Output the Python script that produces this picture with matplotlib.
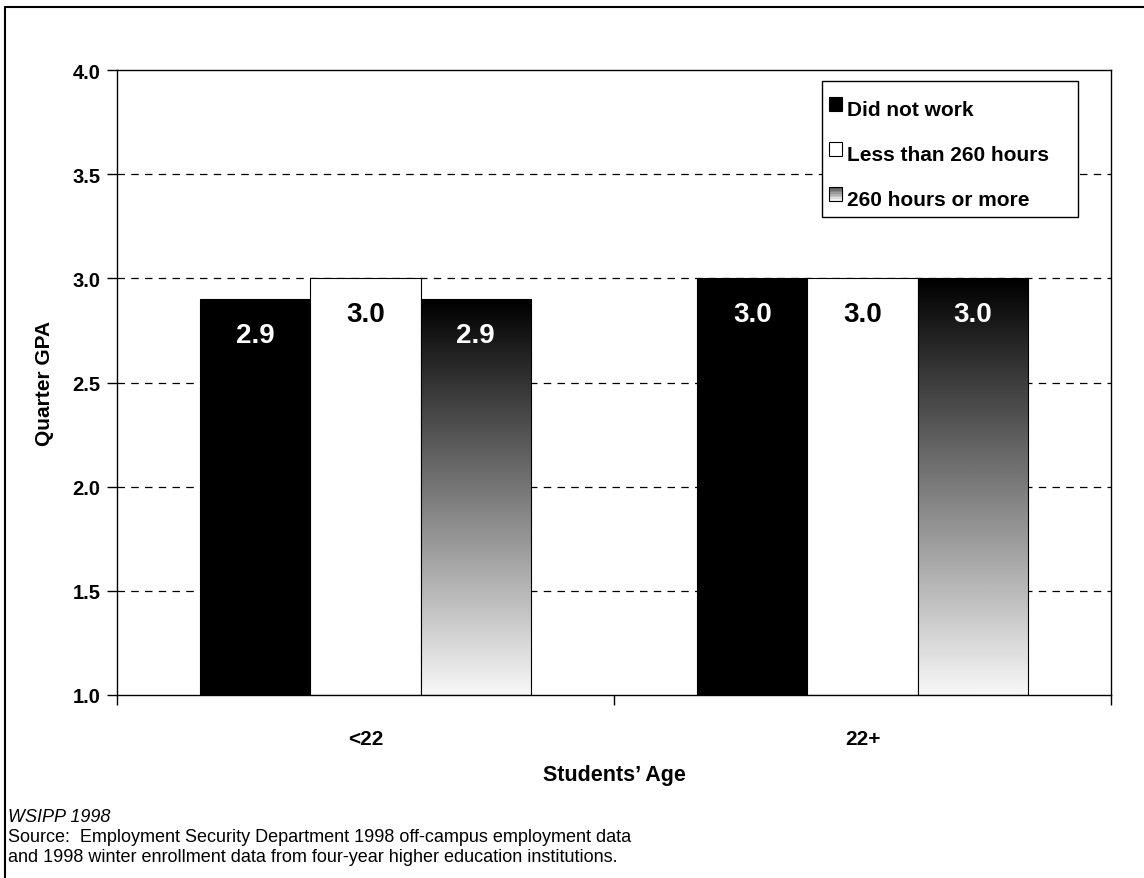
import numpy as np
import matplotlib
matplotlib.use("Agg")
import matplotlib.pyplot as plt
from matplotlib.patches import Rectangle
from matplotlib.legend_handler import HandlerBase

plt.rcParams["font.family"] = ["Liberation Sans", "DejaVu Sans"]

# Data
age_groups = ["<22", "22+"]
series_names = ["Did not work", "Less than 260 hours", "260 hours or more"]
gpa_did_not_work = [2.9, 3.0]
gpa_less_260 = [3.0, 3.0]
gpa_260_plus = [2.9, 3.0]
y_ticks = [1.0, 1.5, 2.0, 2.5, 3.0, 3.5, 4.0]

W, H = 1144, 879
fig = plt.figure(figsize=(W / 100, H / 100), dpi=100)
ax = fig.add_axes([117 / W, 1 - 696 / H, (1111 - 117) / W, (696 - 71) / H])

ax.set_xlim(0, 2)
ax.set_ylim(1.0, 4.0)
base = 1.0
bw = 0.2215
centers = np.arange(len(age_groups)) + 0.5
offsets = [-bw, 0.0, bw]

# dashed gridlines behind the bars
for v in y_ticks[1:-1]:
    ax.axhline(v, color="black", lw=0.9, ls=(0, (6, 5)), zorder=0)

# solid bars
ax.bar(centers + offsets[0], np.array(gpa_did_not_work) - base, bw, bottom=base,
       color="black", edgecolor="black", lw=0.8, zorder=2)
ax.bar(centers + offsets[1], np.array(gpa_less_260) - base, bw, bottom=base,
       color="white", edgecolor="black", lw=0.8, zorder=2)

# gradient bars: black at the top fading to white at the base
grad = np.linspace(0.97, 0.0, 256).reshape(-1, 1)
grad_bars = ax.bar(centers + offsets[2], np.array(gpa_260_plus) - base, bw, bottom=base,
                   color="none", edgecolor="black", lw=0.8, zorder=3)
for rect in grad_bars:
    x0, y0 = rect.get_x(), rect.get_y()
    x1, y1 = x0 + rect.get_width(), y0 + rect.get_height()
    im = ax.imshow(grad, cmap="gray", vmin=0, vmax=1, origin="lower",
                   extent=[x0, x1, y0, y1], aspect="auto", zorder=2,
                   interpolation="bilinear")
    im.set_clip_path(rect)

# value labels
label_off = 0.17
for i, c in enumerate(centers):
    for vals, off, col in [(gpa_did_not_work, offsets[0], "white"),
                           (gpa_less_260, offsets[1], "black"),
                           (gpa_260_plus, offsets[2], "white")]:
        ax.text(c + off, vals[i] - label_off, f"{vals[i]:.1f}", ha="center", va="center",
                color=col, fontsize=20, fontweight="bold", zorder=4)

# axes styling
ax.set_yticks(y_ticks)
ax.set_yticklabels([f"{v:.1f}" for v in y_ticks], fontsize=14.5, fontweight="bold")
ax.set_xticks([0, 1, 2])
ax.set_xticklabels([])
ax.tick_params(axis="both", direction="out", length=7, width=1, color="black")
ax.tick_params(axis="y", pad=5)
for c, name in zip(centers, age_groups):
    ax.text(c, -0.07, name, transform=ax.get_xaxis_transform(), ha="center", va="center",
            fontsize=15, fontweight="bold")
for s in ax.spines.values():
    s.set_linewidth(1.0)
    s.set_color("black")

fig.text(45 / W, 1 - 383 / H, "Quarter GPA", rotation=90, ha="center", va="center",
         fontsize=15, fontweight="bold")
fig.text(614 / W, 1 - 776 / H, "Students\u2019 Age", ha="center", va="center",
         fontsize=15.5, fontweight="bold")


# legend swatches: small squares, the third one shaded
class SwatchHandler(HandlerBase):
    def __init__(self, levels):
        super().__init__()
        self.levels = levels

    def create_artists(self, legend, orig_handle, xdescent, ydescent, width, height,
                       fontsize, trans):
        x = -xdescent
        y = -ydescent + height * 0.25
        artists = []
        n = len(self.levels)
        for k, g in enumerate(self.levels):
            artists.append(Rectangle((x, y + height * (n - 1 - k) / n), width, height / n,
                                     facecolor=(g, g, g), edgecolor="none", transform=trans))
        artists.append(Rectangle((x, y), width, height, facecolor="none",
                                 edgecolor="black", lw=0.8, transform=trans))
        return artists


class Swatch:
    def __init__(self, label):
        self.label = label

    def get_label(self):
        return self.label


handles = [Swatch(n) for n in series_names]
handler_map = {
    handles[0]: SwatchHandler([0.0]),
    handles[1]: SwatchHandler([1.0]),
    handles[2]: SwatchHandler(list(np.linspace(0.35, 0.95, 8))),
}

# legend box drawn as its own white panel over the gridlines
ax.add_patch(Rectangle((822 / W, 1 - 218 / H), (1078 - 822) / W, (218 - 82) / H,
                       transform=fig.transFigure, facecolor="white", edgecolor="black",
                       lw=1.0, zorder=4.5, clip_on=False))
leg = ax.legend(handles, series_names, loc="upper left",
                bbox_to_anchor=(814.5 / W, 1 - 86 / H),
                bbox_transform=fig.transFigure, borderaxespad=0,
                prop={"size": 15, "weight": "bold"}, handlelength=0.6, handleheight=0.6,
                handletextpad=0.25, labelspacing=1.25, borderpad=0.7, frameon=False,
                handler_map=handler_map)
leg.set_zorder(5)

# footnotes
fig.text(8 / W, 1 - 818 / H, "WSIPP 1998", fontsize=13, style="italic", va="center")
fig.text(8 / W, 1 - 838 / H,
         "Source:  Employment Security Department 1998 off-campus employment data",
         fontsize=13, va="center")
fig.text(8 / W, 1 - 858 / H,
         "and 1998 winter enrollment data from four-year higher education institutions.",
         fontsize=13, va="center")

# outer frame
fig.patches.append(Rectangle((5 / W, -0.05), 1.1, 1 - 8 / H + 0.05, transform=fig.transFigure,
                             facecolor="none", edgecolor="black", lw=1.5, zorder=0))

fig.savefig("out.png", dpi=100, facecolor="white")
